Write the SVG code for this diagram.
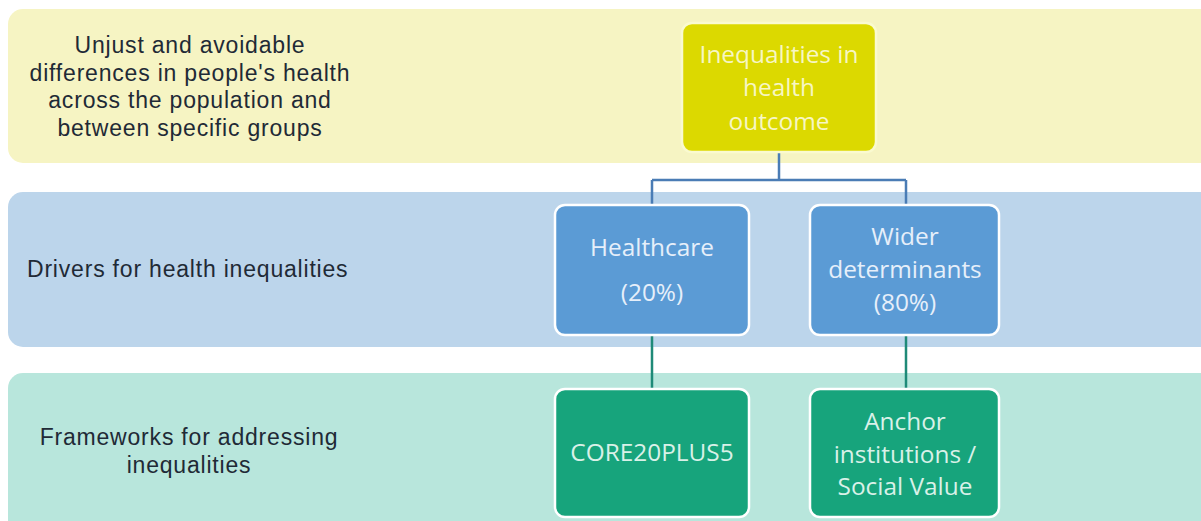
<svg xmlns="http://www.w3.org/2000/svg" width="1201" height="521" viewBox="0 0 1201 521">
<style>
.lbl{font-family:"Liberation Sans",Arial,sans-serif;font-size:23px;letter-spacing:0.8px;fill:#1f2a36;text-anchor:middle}
.nt{font-family:"Open Sans","Liberation Sans",sans-serif;font-size:24.4px;text-anchor:middle}
.node{stroke:#ffffff;stroke-width:2.5}
.c1{fill:none;stroke:#4a7cb5;stroke-width:2.5}
.c2{fill:none;stroke:#1f8a78;stroke-width:2.5}
</style>
<rect width="1201" height="521" fill="#ffffff"/>
<g id="bands">
<rect x="8" y="9" width="1220" height="154" rx="15" fill="#f6f4c3"/>
<rect x="8" y="192" width="1220" height="155" rx="15" fill="#bcd5eb"/>
<rect x="8" y="373" width="1220" height="170" rx="15" fill="#b8e6dc"/>
</g>
<g id="band-labels">
<text class="lbl"><tspan x="190" y="53">Unjust and avoidable</tspan><tspan x="190" y="81">differences in people's health</tspan><tspan x="190" y="108">across the population and</tspan><tspan x="190" y="136">between specific groups</tspan></text>
<text class="lbl" x="27" y="277" style="text-anchor:start">Drivers for health inequalities</text>
<text class="lbl"><tspan x="189" y="445">Frameworks for addressing</tspan><tspan x="189" y="473">inequalities</tspan></text>
</g>
<g id="connectors">
<path class="c1" d="M779 152 V180 M652 180 H906 M652 180 V205 M906 180 V205"/>
<path class="c2" d="M652 335 V389 M906 335 V389"/>
</g>
<g id="node-outcome">
<rect class="node" x="682" y="23" width="194" height="129" rx="10" fill="#dcd900" style="stroke:#fafad0"/>
<text class="nt" fill="#f7f6c4"><tspan x="779" y="63">Inequalities in</tspan><tspan x="779" y="96">health</tspan><tspan x="779" y="130">outcome</tspan></text>
</g>
<g id="node-healthcare">
<rect class="node" x="555" y="205" width="194" height="130" rx="10" fill="#5b9bd5"/>
<text class="nt" fill="#e6effa"><tspan x="652" y="256">Healthcare</tspan><tspan x="652" y="301">(20%)</tspan></text>
</g>
<g id="node-wider">
<rect class="node" x="810" y="205" width="189" height="130" rx="10" fill="#5b9bd5"/>
<text class="nt" fill="#e6effa"><tspan x="905" y="245">Wider</tspan><tspan x="905" y="278">determinants</tspan><tspan x="905" y="311">(80%)</tspan></text>
</g>
<g id="node-core">
<rect class="node" x="555" y="389" width="194" height="128" rx="10" fill="#17a47c"/>
<text class="nt" fill="#d9f1e8" x="652" y="461">CORE20PLUS5</text>
</g>
<g id="node-anchor">
<rect class="node" x="810" y="389" width="189" height="128" rx="10" fill="#17a47c"/>
<text class="nt" fill="#d9f1e8"><tspan x="905" y="430">Anchor</tspan><tspan x="905" y="463">institutions /</tspan><tspan x="905" y="495">Social Value</tspan></text>
</g>
</svg>
